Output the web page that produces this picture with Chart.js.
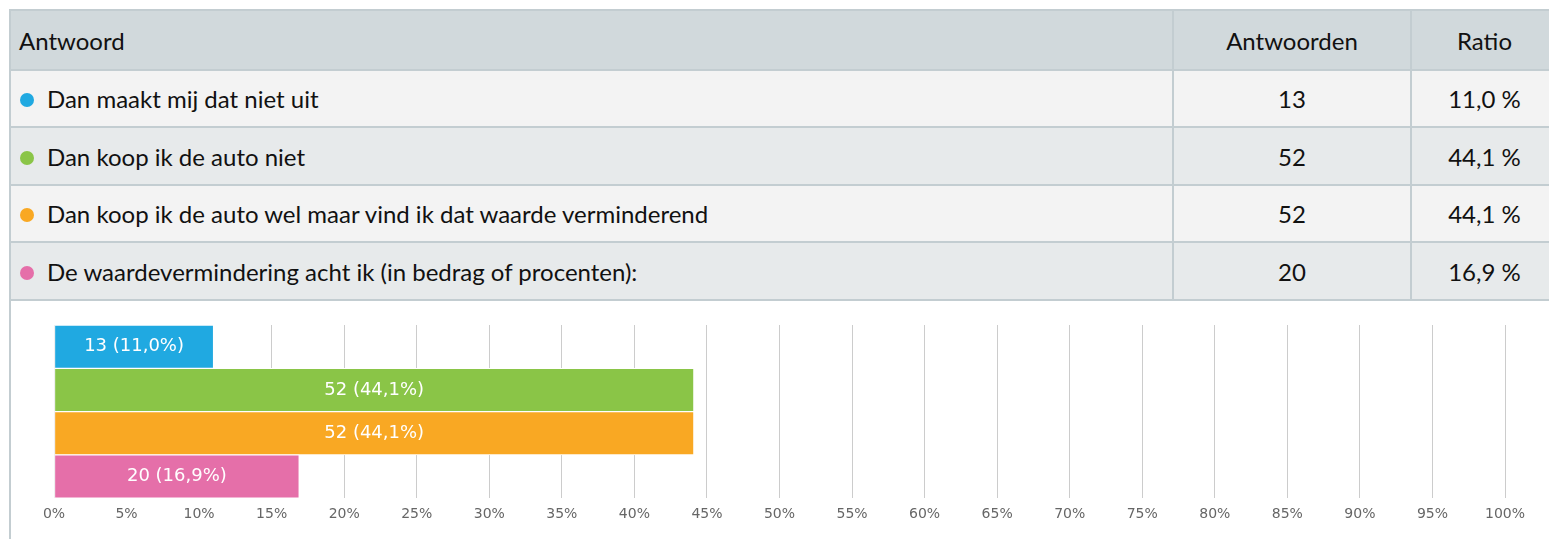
<!DOCTYPE html>
<html>
<head>
<meta charset="utf-8">
<script src="https://cdn.jsdelivr.net/npm/chart.js@4.4.0/dist/chart.umd.min.js"></script>
<style>
  html, body { margin: 0; padding: 0; background: #fff; overflow: hidden; }
  body { width: 1549px; height: 539px; position: relative; }
  #wrap {
    position: absolute; left: 9px; top: 9px; width: 1550px; height: 560px;
    border: 2px solid #c3cdd1; box-sizing: border-box; background: #fff;
  }
  table { border-collapse: collapse; width: 1550px; position: absolute; left: -2px; top: -2px;
    font-family: "Lato", sans-serif; font-size: 24px; color: #111; }
  td, th { border: 2px solid #c3cdd1; padding: 0; font-weight: normal; }
  th { background: #d1d9dc; height: 58px; }
  tr.odd td { background: #f3f3f3; height: 55px; }
  tr.even td { background: #e7eaeb; height: 56px; }
  .c1 { text-align: left; padding-left: 8px; }
  .c2, .c3 { text-align: center; }
  .dot { display: inline-block; width: 14px; height: 14px; border-radius: 50%; margin-right: 13px; margin-left: 1px; vertical-align: 1px; }
  #chartBox { position: absolute; left: 2px; top: 289px; width: 1546px; height: 239px; }
</style>
</head>
<body>
<div id="wrap">
  <table id="tbl">
    <thead>
      <tr><th class="c1" style="width:1153px">Antwoord</th><th class="c2" style="width:236px">Antwoorden</th><th class="c3">Ratio</th></tr>
    </thead>
    <tbody id="rows"></tbody>
  </table>
  <div id="chartBox"><canvas id="chart"></canvas></div>
</div>
<script>
const categories = [
  "Dan maakt mij dat niet uit",
  "Dan koop ik de auto niet",
  "Dan koop ik de auto wel maar vind ik dat waarde verminderend",
  "De waardevermindering acht ik (in bedrag of procenten):"
];
const counts = [13, 52, 52, 20];
const ratios = [11.0, 44.1, 44.1, 16.9];
const colors = ["#20a9e1", "#8ac547", "#f9a823", "#e56fa9"];
const tickLabels = ["0%","5%","10%","15%","20%","25%","30%","35%","40%","45%","50%","55%","60%","65%","70%","75%","80%","85%","90%","95%","100%"];

function fmt(v) { return v.toFixed(1).replace(".", ","); }

// table rows
let html = "";
for (let i = 0; i < categories.length; i++) {
  html += '<tr class="' + (i % 2 == 0 ? 'odd' : 'even') + '">' +
    '<td class="c1"><span class="dot" style="background:' + colors[i] + '"></span>' + categories[i] + '</td>' +
    '<td class="c2">' + counts[i] + '</td>' +
    '<td class="c3">' + fmt(ratios[i]) + ' %</td></tr>';
}
document.getElementById("rows").innerHTML = html;

// labels inside the bars
const barLabels = {
  id: "barLabels",
  afterDatasetsDraw(chart) {
    const ctx = chart.ctx;
    const meta = chart.getDatasetMeta(0);
    ctx.save();
    ctx.font = "18px 'DejaVu Sans'";
    ctx.fillStyle = "#fff";
    ctx.textAlign = "center";
    ctx.textBaseline = "middle";
    meta.data.forEach((bar, i) => {
      ctx.fillText(counts[i] + " (" + fmt(ratios[i]) + "%)", (bar.x + bar.base) / 2, bar.y);
    });
    ctx.restore();
  }
};

new Chart(document.getElementById("chart"), {
  type: "bar",
  data: {
    labels: categories,
    datasets: [{
      data: ratios,
      backgroundColor: colors,
      borderColor: "#fff",
      borderWidth: 1,
      borderSkipped: false,
      barPercentage: 1,
      categoryPercentage: 1
    }]
  },
  plugins: [barLabels],
  options: {
    indexAxis: "y",
    responsive: true,
    maintainAspectRatio: false,
    animation: false,
    layout: { padding: { left: 41, right: 54, top: 25, bottom: 8 } },
    plugins: { legend: { display: false }, tooltip: { enabled: false } },
    scales: {
      x: {
        min: 0, max: 100,
        border: { display: false },
        grid: { color: "#cccccc", drawTicks: false },
        ticks: {
          stepSize: 5, padding: 8, color: "#666",
          font: { family: "DejaVu Sans", size: 14 },
          callback: (v, i) => tickLabels[i]
        }
      },
      y: { display: false }
    }
  }
});
</script>
</body>
</html>
